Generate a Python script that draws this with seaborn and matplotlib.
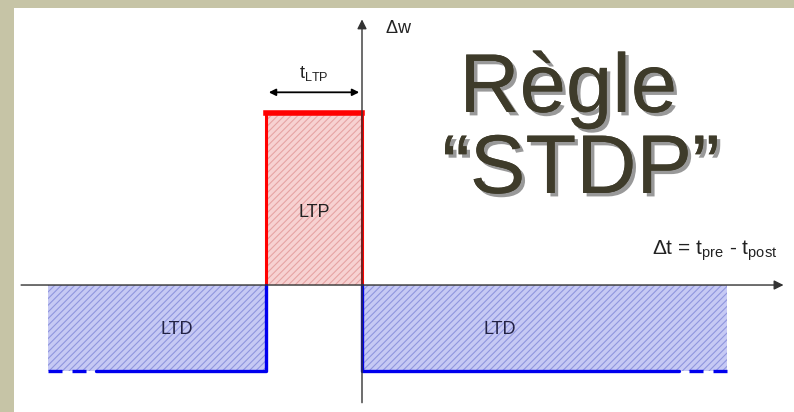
import numpy as np
import pandas as pd
import seaborn as sns
import matplotlib.pyplot as plt
import matplotlib.patheffects as pe

# Fenêtres de la règle STDP (unités : t_LTP = 1, amplitude LTP = 1)
zones = ["LTD", "LTP", "LTD"]
t_debut = [-3.27, -1.0, 0.0]
t_fin = [-1.0, 0.0, 3.8]
delta_w = [-0.5, 1.0, -0.5]
dash_len = 0.5  # bout en pointillé des fenêtres LTD

titre = ["Règle", "\u201cSTDP\u201d"]
label_x = r"$\Delta$t = t$_{\mathregular{pre}}$ - t$_{\mathregular{post}}$"
label_y = r"$\Delta$w"
label_tltp = r"t$_{\mathregular{LTP}}$"

sns.set_theme(style="white")
plt.rcParams['font.family'] = ['Liberation Sans', 'DejaVu Sans']
plt.rcParams['mathtext.fontset'] = 'custom'
plt.rcParams['mathtext.rm'] = 'Liberation Sans'
plt.rcParams['hatch.linewidth'] = 0.8

fig = plt.figure(figsize=(7.94, 4.12), dpi=100, facecolor='#c6c4a6')
ax = fig.add_axes([14 / 794, 0, 780 / 794, 404 / 412])
ax.set_facecolor('white')
ax.set_xlim(-3.625, 4.5)
ax.set_ylim(-0.738, 1.61)
for s in ax.spines.values():
    s.set_visible(False)
ax.set_xticks([])
ax.set_yticks([])

df = pd.DataFrame({'zone': zones, 'debut': t_debut, 'fin': t_fin, 'dw': delta_w})

# rectangles hachurés
for _, r in df.iterrows():
    if r['zone'] == 'LTP':
        fc, hc = '#f7d2d2', '#e6a4a4'
    else:
        fc, hc = '#c6c9f4', '#9096de'
    ax.bar(r['debut'], r['dw'], width=r['fin'] - r['debut'], align='edge',
           color=fc, edgecolor=hc, hatch='/////', linewidth=0, zorder=1)

# contours
ltp = df[df['zone'] == 'LTP'].iloc[0]
contour_ltp = pd.DataFrame({'x': [ltp['debut'], ltp['debut'], ltp['fin'], ltp['fin']],
                            'y': [0, ltp['dw'], ltp['dw'], 0]})
sns.lineplot(data=contour_ltp, x='x', y='y', sort=False, estimator=None,
             color='#ff0000', linewidth=2.2, ax=ax, zorder=3)
ax.plot([ltp['debut'], ltp['fin']], [ltp['dw'], ltp['dw']], color='#ff0000',
        linewidth=4.0, solid_capstyle='projecting', zorder=3)

gauche = df.iloc[0]
droite = df.iloc[2]
contour_g = pd.DataFrame({'x': [gauche['fin'], gauche['fin'], gauche['debut'] + dash_len],
                          'y': [0, gauche['dw'], gauche['dw']]})
contour_d = pd.DataFrame({'x': [droite['debut'], droite['debut'], droite['fin'] - dash_len],
                          'y': [0, droite['dw'], droite['dw']]})
for c in (contour_g, contour_d):
    sns.lineplot(data=c, x='x', y='y', sort=False, estimator=None,
                 color='#0000ee', linewidth=2.4, ax=ax, zorder=3)
ax.plot([gauche['debut'], gauche['debut'] + dash_len], [gauche['dw']] * 2,
        color='#0000ee', linewidth=2.4, dashes=(4.2, 3), zorder=3)
ax.plot([droite['fin'], droite['fin'] - dash_len], [droite['dw']] * 2,
        color='#0000ee', linewidth=2.4, dashes=(4.2, 3), zorder=3)
ax.set_xlabel('')
ax.set_ylabel('')

# axes avec flèches
ax.annotate('', xy=(4.42, 0), xytext=(-3.58, 0),
            arrowprops=dict(arrowstyle='-|>', color='#333333', lw=1.0,
                            mutation_scale=14), zorder=4)
ax.annotate('', xy=(0, 1.56), xytext=(0, -0.70),
            arrowprops=dict(arrowstyle='-|>', color='#333333', lw=1.0,
                            mutation_scale=14), zorder=4)
ax.annotate('', xy=(ltp['debut'], 1.12), xytext=(ltp['fin'], 1.12),
            arrowprops=dict(arrowstyle='<|-|>', color='black', lw=1.3,
                            mutation_scale=10), zorder=4)

# textes
for _, r in df.iterrows():
    if r['zone'] == 'LTP':
        ax.text((r['debut'] + r['fin']) / 2, 0.42, 'LTP', ha='center', va='center',
                fontsize=13, color='#222222', zorder=5)
    else:
        xc = -1.93 if r['debut'] < 0 else 1.44
        ax.text(xc, -0.26, 'LTD', ha='center', va='center', fontsize=13,
                color='#222244', zorder=5)

ax.text(-0.5, 1.23, label_tltp, ha='center', va='center', fontsize=13, color='#222222')
ax.text(0.24, 1.49, label_y, ha='left', va='center', fontsize=13, color='#222222')
ax.text(3.02, 0.20, label_x, ha='left', va='center', fontsize=15, color='#222222', clip_on=False)

ombre = [pe.withSimplePatchShadow(offset=(2.5, -2.5), shadow_rgbFace='#555555', alpha=0.6),
         pe.Normal()]
ax.text(2.15, 1.006, titre[0], ha='center', va='baseline', fontsize=60, color='#3e3b2a',
        path_effects=ombre)
ax.text(2.28, 0.535, titre[1], ha='center', va='baseline', fontsize=60, color='#3e3b2a',
        path_effects=ombre)

fig.savefig('out.png', dpi=100, facecolor=fig.get_facecolor())
